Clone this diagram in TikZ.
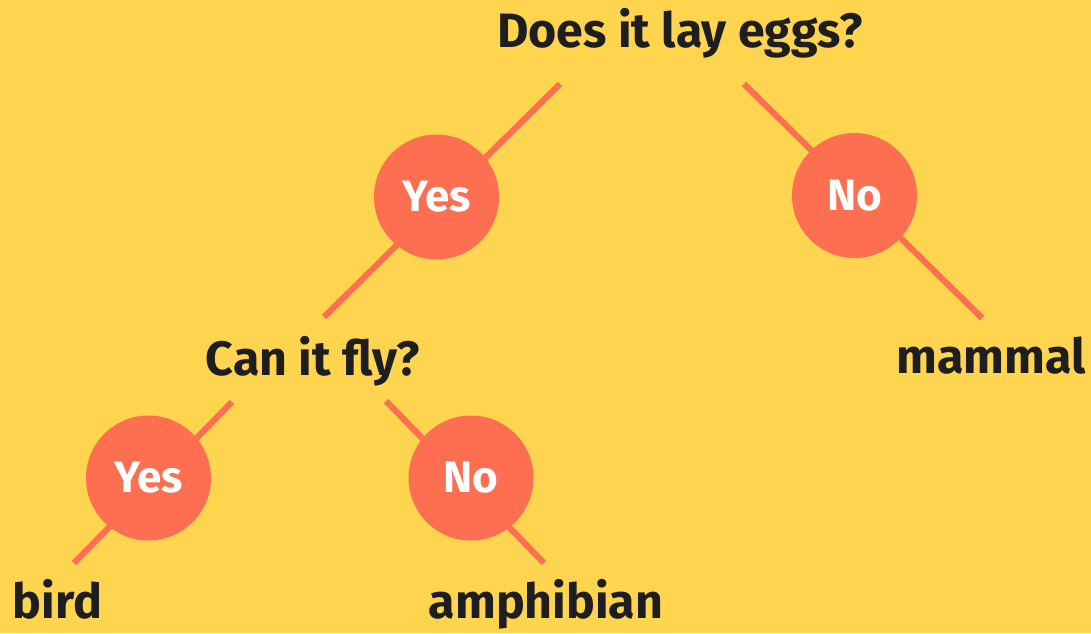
\documentclass[tikz,border=0pt]{standalone}
\usepackage{fontspec}
\setmainfont{Fira Sans}
\definecolor{bg}{HTML}{FFD54F}
\definecolor{coral}{HTML}{FD6F50}
\definecolor{ink}{HTML}{1E1E1E}
\begin{document}
\begin{tikzpicture}[x=0.75pt,y=-0.75pt,
  branchline/.style={draw=coral,line width=4.6pt},
  ansdisc/.style={circle,fill=coral,minimum size=93.75pt,inner sep=0pt,text=white,font=\fontsize{33}{40}\selectfont\bfseries},
  qtext/.style={anchor=base,text=ink,inner sep=0pt,font=\fontsize{36.2}{43}\selectfont\bfseries}]
\fill[bg] (0,0) rectangle (1091,633);
\useasboundingbox (0,0) rectangle (1091,633);
% line end points
\coordinate (l1a) at (560,84);  \coordinate (l1b) at (324,317);
\coordinate (l2a) at (744,84);  \coordinate (l2b) at (982,318);
\coordinate (l3a) at (232,402); \coordinate (l3b) at (74,563);
\coordinate (l4a) at (386,401); \coordinate (l4b) at (544,563);
\draw[branchline] (l1a) -- (l1b);
\draw[branchline] (l2a) -- (l2b);
\draw[branchline] (l3a) -- (l3b);
\draw[branchline] (l4a) -- (l4b);
% answers
\node[ansdisc] (yes1) at (436.5,197) {Yes};
\node[ansdisc] (no1) at (854.5,195.5) {No};
\node[ansdisc] (yes2) at (148.5,478) {Yes};
\node[ansdisc] (no2) at (471,478) {No};
% texts
\node[qtext] (q1) at (680,47) {Does it lay eggs?};
\node[qtext] (q2) at (312.5,375) {Can it fly?};
\node[qtext] (mammal) at (991,373) {mammal};
\node[qtext] (bird) at (57.5,618) {bird};
\node[qtext] (amph) at (546,618) {amphibian};
\end{tikzpicture}
\end{document}
